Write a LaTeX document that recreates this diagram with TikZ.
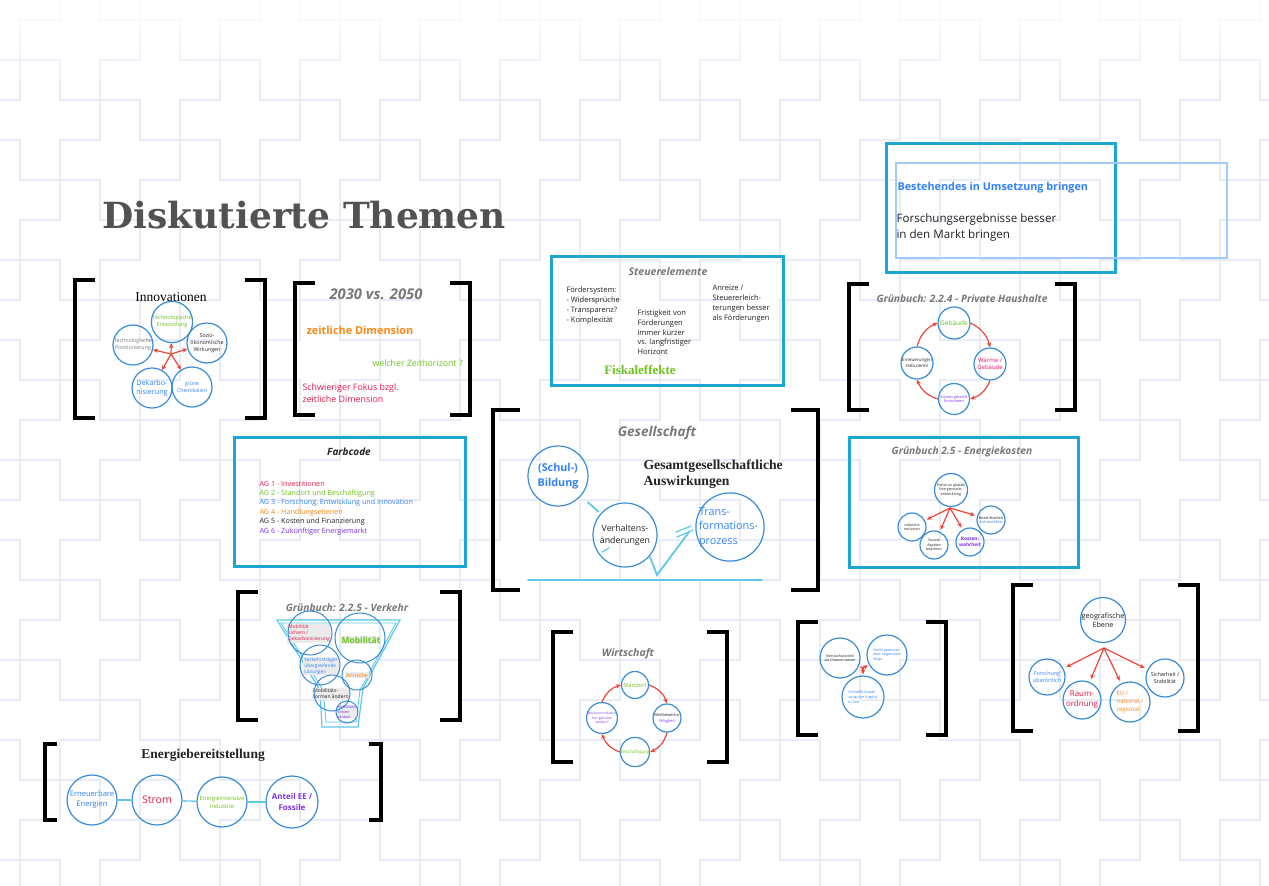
\documentclass[tikz,border=0pt]{standalone}
\usepackage{fontspec}
\setmainfont{Open Sans}
\newfontfamily\slabfont{DejaVu Serif}
\newfontfamily\bookfont{Liberation Serif}
\usetikzlibrary{arrows.meta}

\definecolor{boxcyan}{RGB}{30,166,210}
\definecolor{circblue}{RGB}{56,140,216}
\definecolor{arrred}{RGB}{232,72,60}
\definecolor{linecyan}{RGB}{95,200,232}
\definecolor{tblue}{RGB}{50,130,250}
\definecolor{tgreen}{RGB}{110,195,30}
\definecolor{torange}{RGB}{255,135,20}
\definecolor{tred}{RGB}{232,25,75}
\definecolor{tpurple}{RGB}{120,50,240}
\definecolor{tgray}{RGB}{120,120,120}
\definecolor{tdark}{RGB}{35,35,35}
\definecolor{bgline}{RGB}{233,235,245}
\definecolor{lightrect}{RGB}{165,200,250}

\newcommand\fsz[2]{\fontsize{#1}{#2}\selectfont}

% a pair of square brackets: left x, right x, top y, bottom y, arm length
\newcommand\bracketpair[5]{%
  \draw[bracketline] (#1+#5,#3) -- (#1,#3) -- (#1,#4) -- (#1+#5,#4);
  \draw[bracketline] (#2-#5,#3) -- (#2,#3) -- (#2,#4) -- (#2-#5,#4);}

\tikzset{
  bgtile/.style={draw=bgline, line width=1.2pt},
  bracketline/.style={draw=black, line width=3.6pt},
  cyanbox/.style={draw=boxcyan, line width=3pt},
  bub/.style={circle, draw=circblue, line width=1.2pt, inner sep=0pt,
              align=center, minimum size=#1},
  bub/.default=30,
  redarr/.style={draw=arrred, line width=1.2pt,
                 -{Stealth[length=5pt,width=4.5pt]}},
  cyanline/.style={draw=linecyan, line width=1.8pt, line cap=round},
  sectitle/.style={font=\bfseries\itshape\fsz{10.2}{12}, text=tgray},
  vtext/.style={fill=black!8, inner sep=1pt, align=left, font=\fsz{4.6}{5.6}},
}

\begin{document}
\begin{tikzpicture}[x=1pt, y=-1pt]
\useasboundingbox (0,0) rectangle (1269,886);
\fill[white] (0,0) rectangle (1269,886);

% background tiling of plus shapes
\begin{scope}
  \clip (0,0) rectangle (1269,886);
  \foreach \i in {-1,...,17}{
    \foreach \j in {-8,...,10}{
      \draw[bgtile, shift={(80*\i-40*\j,40*\i+80*\j)}]
        (-20,-60) -- ++(40,0) -- ++(0,40) -- ++(40,0) -- ++(0,40)
        -- ++(-40,0) -- ++(0,40) -- ++(-40,0) -- ++(0,-40)
        -- ++(-40,0) -- ++(0,-40) -- ++(40,0) -- cycle;
    }
  }
  % the pattern fades out towards the top edge
  \fill[white, opacity=0.35] (0,0) rectangle (1269,80);
  \fill[white, opacity=0.4] (0,0) rectangle (1269,55);
  \fill[white, opacity=0.5] (0,0) rectangle (1269,30);
\end{scope}

% ---------- title ----------
\node[anchor=base west, font=\slabfont\bfseries\fsz{36}{40}, text=black!68] (title) at (99,228) {Diskutierte Themen};

% ---------- Innovationen ----------
\bracketpair{75}{265}{280}{418}{20}
\node[font=\bookfont\fsz{13.5}{15}] (innt) at (171,297) {Innovationen};
\node[bub=40, font=\fsz{5.5}{7}, text=tgreen] (i1) at (172,322) {Technologische\\Entwicklung};
\node[bub=40, font=\fsz{5.3}{7}, text=tgray] (i2) at (133,345) {Technologische\\Positionierung};
\node[bub=40, font=\fsz{5.3}{6.8}, text=tdark] (i3) at (207,343) {Sozio-\\ökonomische\\Wirkungen};
\node[bub=40, font=\fsz{7.2}{9}, text=tblue] (i4) at (152,388) {Dekarbo-\\nisierung};
\node[bub=40, font=\fsz{5.2}{7}, text=tblue] (i5) at (192,387) {grüne\\Chemikalien};
\coordinate (ih) at (171,354);
\foreach \t in {i1,i2,i3,i4,i5} \draw[redarr] (ih) -- (\t);

% ---------- 2030 vs. 2050 ----------
\bracketpair{295}{470}{283}{415}{20}
\node[font=\bfseries\itshape\fsz{14.8}{16}, text=tgray] (y) at (376,294) {2030 vs. 2050};
\node[anchor=west, font=\bfseries\fsz{10.9}{12}, text=torange] (zd) at (303,330) {zeitliche Dimension};
\node[anchor=west, font=\fsz{8.8}{10}, text=tgreen] (zh) at (369,363) {welcher Zeithorizont ?};
\node[anchor=west, align=left, font=\fsz{8.9}{11.5}, text=tred] (sf) at (299,393) {Schwieriger Fokus bzgl.\\zeitliche Dimension};

% ---------- Steuerelemente ----------
\draw[cyanbox] (551,256) rectangle (783,385);
\node[font=\bfseries\itshape\fsz{10.5}{12}, text=tgray] (st) at (668,272) {Steuerelemente};
\node[anchor=north west, align=left, font=\fsz{7.5}{10}, text=tdark] (fs) at (563,283) {Fördersystem:\\- Widersprüche\\- Transparenz?\\- Komplexität};
\node[anchor=north west, align=left, font=\fsz{7.5}{9.9}, text=tdark] (fr) at (634,306) {Fristigkeit von\\Förderungen\\immer kürzer\\vs. langfristiger\\Horizont};
\node[anchor=north west, align=left, font=\fsz{7.5}{10.2}, text=tdark] (an) at (709,281) {Anreize /\\Steuererleich-\\terungen besser\\als Förderungen};
\node[font=\bookfont\bfseries\fsz{13}{14}, text=tgreen] (fk) at (640,370) {Fiskaleffekte};

% ---------- Umsetzung ----------
\draw[cyanbox] (886,143) rectangle (1115,272);
\draw[draw=lightrect, line width=1.5pt] (896,163) rectangle (1227,258);
\node[anchor=west, font=\bfseries\fsz{10.8}{12}, text=tblue] (bu) at (894,188) {Bestehendes in Umsetzung bringen};
\node[anchor=north west, align=left, font=\fsz{11.6}{16}, text=tdark] (fm) at (893,210) {Forschungsergebnisse besser\\in den Markt bringen};

% ---------- Grünbuch 2.2.4 ----------
\bracketpair{849}{1075}{284}{410}{20}
\node[sectitle] (g0) at (962,299) {Grünbuch: 2.2.4 - Private Haushalte};
\node[bub=32, font=\fsz{6.5}{7.5}, text=tgreen] (g1) at (954,323) {Gebäude};
\node[bub=32, font=\fsz{6}{7.5}, text=tred!80!magenta] (g2) at (990,364) {Wärme /\\Gebäude};
\node[bub=31, font=\fsz{3.8}{4.6}, text=tpurple] (g3) at (954,399) {Kosten gerecht\\finanzieren};
\node[bub=32, font=\fsz{4.5}{6}, text=tdark] (g4) at (917,363) {Erneuerungen\\reduzieren};
\draw[redarr] (g4.north) to[bend left=25] (g1.west);
\draw[redarr] (g1.east) to[bend left=25] (g2.north);
\draw[redarr] (g2.south) to[bend left=25] (g3.east);
\draw[redarr] (g3.west) to[bend left=25] (g4.south);

% ---------- Farbcode ----------
\draw[cyanbox] (234,437) rectangle (465,566);
\node[font=\bfseries\itshape\fsz{10}{11}, text=tdark] (fc) at (349,452) {Farbcode};
\node[anchor=west, font=\fsz{7.2}{8}, text=tred] (ag1) at (256,484) {AG 1 - Investitionen};
\node[anchor=west, font=\fsz{7.2}{8}, text=tgreen] (ag2) at (256,494) {AG 2 - Standort und Beschäftigung};
\node[anchor=west, font=\fsz{7.2}{8}, text=tblue] (ag3) at (256,503) {AG 3 - Forschung, Entwicklung und Innovation};
\node[anchor=west, font=\fsz{7.2}{8}, text=torange] (ag4) at (256,513) {AG 4 - Handlungsebenen};
\node[anchor=west, font=\fsz{7.2}{8}, text=tdark] (ag5) at (256,522) {AG 5 - Kosten und Finanzierung};
\node[anchor=west, font=\fsz{7.2}{8}, text=tpurple] (ag6) at (256,532) {AG 6 - Zukünftiger Energiemarkt};

% ---------- Gesellschaft ----------
\bracketpair{493}{818}{410}{590}{27}
\node[font=\bfseries\itshape\fsz{13.5}{15}, text=tgray] (ge) at (657,433) {Gesellschaft};
\node[bub=60, font=\bfseries\fsz{10.8}{15}, text=tblue] (s1) at (558,476) {(Schul-)\\Bildung};
\node[anchor=north west, align=left, font=\bookfont\bfseries\fsz{13.7}{16}, text=tdark] (ga) at (640,456) {Gesamtgesellschaftliche\\Auswirkungen};
\node[bub=64, font=\fsz{8.8}{11.5}, text=tdark] (s2) at (625,535) {Verhaltens-\\änderungen};
\node[bub=60, align=left, font=\fsz{10.8}{14.5}, text=tblue] (s3) at (730,527) {\hspace*{-3pt}Trans-\\\hspace*{-3pt}formations-\\\hspace*{-3pt}prozess};
\draw[cyanline, shorten <=9pt, shorten >=3pt] (s1) -- (s2);
\coordinate (va) at (650,557);
\coordinate (vb) at (657,575);
\coordinate (vc) at (689,532);
\draw[cyanline] (va) -- (vb) -- (vc);
\coordinate (c1) at (602,552);
\coordinate (c2) at (609,548);
\draw[cyanline, line width=1.2pt] (c1) -- (c2);
\coordinate (d1) at (677,537);
\coordinate (d2) at (693,530);
\coordinate (d3) at (676,532);
\coordinate (d4) at (691,526);
\draw[cyanline, line width=1.2pt] (d1) -- (d2);
\draw[cyanline, line width=1.2pt] (d3) -- (d4);
\coordinate (h1) at (528,580);
\coordinate (h2) at (762,580);
\draw[cyanline] (h1) -- (h2);

% ---------- Grünbuch 2.5 ----------
\draw[cyanbox] (849,437) rectangle (1078,567);
\node[sectitle] (e0t) at (962,452) {Grünbuch 2.5 - Energiekosten};
\node[bub=33, font=\fsz{3.6}{4.6}, text=tdark] (e0) at (951,490) {Preise an globale\\Energiemarkt-\\entwicklung};
\node[bub=28, font=\fsz{3.6}{4.6}, text=tdark] (e1) at (912,527) {Industrie\\entlasten};
\node[bub=28, font=\fsz{3.6}{4.6}, text=tdark] (e2) at (934,545) {Soziale\\Aspekte\\beachten};
\node[bub=28, font=\bfseries\fsz{4.8}{6}, text=tpurple] (e3) at (970,542) {Kosten-\\wahrheit};
\node[bub=28, font=\fsz{3.8}{4.8}, text=tblue] (e4) at (991,520) {\textcolor{tdark}{Bezahlbarkeit}\\sicherstellen};
\coordinate (eh) at (950,508);
\foreach \t in {e1,e2,e3,e4} \draw[redarr, shorten >=2pt] (eh) -- (\t);

% ---------- Grünbuch 2.2.5 Verkehr ----------
\bracketpair{238}{460}{592}{720}{20}
\node[sectitle] (vt) at (347,608) {Grünbuch: 2.2.5 - Verkehr};
\draw[draw=linecyan, line width=1.2pt] (277,620) -- (400,620) -- (363,688) -- (358,727) -- (322,727) -- (320,690) -- cycle;
\draw[draw=linecyan, line width=0.9pt] (281,623) -- (396,623) -- (360,690) -- (356,722) -- (326,722) -- (323,690) -- cycle;
\node[vtext, font=\fsz{5}{6}, text=tred] (v1t) at (309,633) {Mobilität\\sichern /\\Dekarbonisierung};
\node[vtext, font=\bfseries\fsz{8.5}{9.5}, text=tgreen] (v2t) at (361,640) {Mobilität};
\node[vtext, font=\fsz{4.8}{5.8}, text=tblue] (v3t) at (321,666) {Verkehrsträger\\übergreifende\\Lösungen};
\node[vtext, font=\fsz{5.5}{6.5}, text=torange] (v4t) at (357,675) {Antriebe};
\node[vtext, font=\fsz{5}{6.2}, text=tdark] (v5t) at (331,694) {Mobilitäts-\\formen ändern};
\node[vtext, font=\fsz{3.8}{4.6}, text=tpurple] (v6t) at (347,712) {Mobilitäts-\\kosten\\senken};
\node[bub=44, line width=1pt] (v1) at (310,633) {};
\node[bub=50, line width=1pt] (v2) at (360,638) {};
\node[bub=40, line width=1pt] (v3) at (320,665) {};
\node[bub=30, line width=1pt] (v4) at (357,675) {};
\node[bub=36, line width=1pt] (v5) at (332,693) {};
\node[bub=22, line width=1pt] (v6) at (347,712) {};

% ---------- Wirtschaft ----------
\bracketpair{553}{727}{632}{762}{20}
\node[font=\bfseries\itshape\fsz{10.5}{12}, text=tgray] (wt) at (628,654) {Wirtschaft};
\node[bub=27, font=\fsz{5.8}{7}, text=tgreen] (w1) at (635,685) {Standort};
\node[bub=28, font=\fsz{4}{6}, text=tdark] (w2) at (667,718) {Wettbewerbs-\\\textcolor{tpurple}{fähigkeit}};
\node[bub=28, font=\fsz{4.4}{5.5}, text=tgreen] (w3) at (635,752) {Beschäftigung};
\node[bub=30, font=\fsz{3.3}{4.3}, text=tpurple] (w4) at (602,718) {Wie kann Industrie\\hier gehalten\\werden?};
\draw[redarr] (w1.east) to[bend left=25] (w2.north);
\draw[redarr] (w2.south) to[bend left=25] (w3.east);
\draw[redarr] (w3.west) to[bend left=25] (w4.south);
\draw[redarr] (w4.north) to[bend left=25] (w1.west);

% ---------- Klimaschutz ----------
\bracketpair{798}{946}{622}{735}{20}
\node[bub=40, font=\fsz{3.6}{4.6}, text=tdark] (m1) at (840,658) {Klimaschutzziele\\als Chance nutzen};
\node[bub=40, font=\fsz{3.6}{4.6}, text=tblue, align=left] (m2) at (887,655) {Stoffe gewinnen\\über ungenutzte\\Wege};
\node[bub=42, font=\fsz{3.8}{5.2}, text=tblue, align=left] (m3) at (863,697) {Schnelle Zuwei-\\sung von Kapital\\in Zeit};
\coordinate (mh) at (863,668);
\foreach \t in {m1,m2,m3} \draw[redarr, shorten >=1pt] (mh) -- (\t);

% ---------- geografische Ebene ----------
\bracketpair{1013}{1198}{585}{731}{20}
\node[bub=44, font=\fsz{7.2}{8.8}, text=tdark] (q0) at (1103,620) {geografische\\Ebene};
\node[bub=36, font=\fsz{5.4}{6.8}, text=tblue] (q1) at (1047,677) {Forschung\\überörtlich};
\node[bub=38, font=\fsz{8}{10}, text=tred] (q2) at (1082,700) {Raum-\\ordnung};
\node[bub=40, font=\fsz{6}{8}, text=torange, align=left] (q3) at (1130,702) {EU /\\national /\\regional};
\node[bub=38, font=\fsz{5.4}{7}, text=tdark] (q4) at (1165,678) {Sicherheit /\\Stabilität};
\coordinate (qh) at (1104,648);
\foreach \t in {q1,q2,q3,q4} \draw[redarr, shorten >=3pt] (qh) -- (\t);

% ---------- Energiebereitstellung ----------
\bracketpair{45}{381}{744}{820}{12}
\node[font=\bookfont\bfseries\fsz{13.5}{15}, text=tdark] (eb) at (203,755) {Energiebereitstellung};
\node[bub=50, font=\fsz{7.6}{10}, text=tblue] (n1) at (92,800) {Erneuerbare\\Energien};
\node[bub=50, font=\fsz{10.5}{12}, text=tred] (n2) at (157,800) {Strom};
\node[bub=50, font=\fsz{5.8}{8}, text=tgreen] (n3) at (222,802) {Energieintensive\\Industrie};
\node[bub=52, font=\bfseries\fsz{8}{11}, text=tpurple] (n4) at (292,802) {Anteil EE /\\Fossile};
\draw[cyanline, line width=1.3pt] (n1) -- (n2);
\draw[cyanline, line width=1.3pt] (n2) -- (n3);
\draw[cyanline, line width=1.3pt] (n3) -- (n4);
\end{tikzpicture}
\end{document}
